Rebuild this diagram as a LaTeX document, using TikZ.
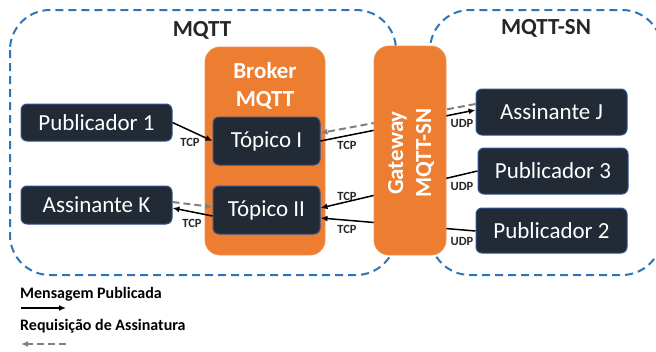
\documentclass[tikz,border=0pt]{standalone}
\usepackage{fontspec}
\setmainfont{Carlito}
\usetikzlibrary{arrows.meta}
\definecolor{orng}{HTML}{ED7D31}
\definecolor{darkfill}{HTML}{222A35}
\definecolor{bord}{HTML}{2F528F}
\definecolor{regionc}{HTML}{2E75B6}
\definecolor{greyarr}{HTML}{7F7F7F}
\definecolor{txt}{HTML}{262626}
\begin{document}
\begin{tikzpicture}[x=1pt,y=-1pt,
  regionbox/.style={draw=regionc, line width=2pt, dash pattern=on 8pt off 5pt, rounded corners=40pt},
  darkbox/.style={draw=bord, line width=1pt, fill=darkfill, rounded corners=6pt, text=white,
    font=\fontsize{23}{27}\selectfont, inner sep=0pt, minimum width=151pt, minimum height=37pt},
  topicbox/.style={darkbox, minimum width=107pt, minimum height=48pt},
  orbox/.style={draw=orng!85!white, line width=0.8pt, fill=orng, rounded corners=15pt, inner sep=0pt},
  whitetitle/.style={text=white, font=\fontsize{23}{28}\selectfont\bfseries, align=center, inner sep=0pt},
  regiontitle/.style={text=txt, font=\fontsize{23}{28}\selectfont\bfseries, inner sep=0pt},
  proto/.style={text=txt, font=\fontsize{12.5}{14}\selectfont\bfseries, inner sep=0pt},
  legendtext/.style={text=black, font=\fontsize{16}{19}\selectfont\bfseries, inner sep=0pt, anchor=west},
  pubarrow/.style={draw=black, line width=1.5pt, -{Latex[length=7pt,width=6pt]}},
  subarrow/.style={draw=greyarr, line width=2pt, dash pattern=on 7pt off 4pt, -{Latex[length=7pt,width=6pt]}},
]
\useasboundingbox (0,0) rectangle (656,351);
\clip (0,0) rectangle (656,351);

% regions
\draw[regionbox] (10,10) rectangle (396,275);
\draw[regionbox] (430,10) rectangle (662,275);
\node[regiontitle] (mqttlbl) at (202,30) {MQTT};
\node[regiontitle] (snlbl) at (546,28) {MQTT-SN};

% broker
\node[orbox, minimum width=120pt, minimum height=208pt] (broker) at (265,151) {};
\node[whitetitle] (brokert) at (265,86) {Broker\\MQTT};
\node[topicbox] (topI) at (266.5,141) {Tópico I};
\node[topicbox] (topII) at (266.5,210) {Tópico II};

% clients
\node[darkbox] (pub1) at (96.5,122.5) {Publicador 1};
\node[darkbox, minimum height=38pt] (assK) at (96.5,205) {Assinante K};
\node[darkbox, minimum height=46pt] (assJ) at (551.5,112) {Assinante J};
\node[darkbox, minimum width=150pt, minimum height=46pt] (pub3) at (553,171) {Publicador 3};
\node[darkbox, minimum height=45pt] (pub2) at (551.5,230.5) {Publicador 2};

% connectors
\draw[pubarrow] (pub1.east) -- (topI.west);
\draw[pubarrow] (topI.east) -- ([yshift=2pt]assJ.west);
\draw[subarrow] ([yshift=8pt]assJ.west) -- ([yshift=8pt]topI.east);
\draw[pubarrow] (pub3.west) -- ([yshift=2pt]topII.east);
\draw[pubarrow] ([yshift=-0.5pt]pub2.west) -- ([yshift=-8pt]topII.east);
\draw[pubarrow] ([yshift=-6pt]topII.west) -- ([yshift=-3pt]assK.east);
\draw[subarrow] ([yshift=3pt]assK.east) -- ([yshift=3pt]topII.west);

% gateway (on top of the lines)
\node[orbox, minimum width=72pt, minimum height=209pt] (gw) at (410,150.5) {};
\node[whitetitle, rotate=90] (gwt) at (411,153) {Gateway\\MQTT-SN};

% protocol labels
\node[proto] (tcp1) at (190,142) {TCP};
\node[proto] (tcp2) at (192,223) {TCP};
\node[proto] (tcp3) at (347,145) {TCP};
\node[proto] (tcp4) at (347,196) {TCP};
\node[proto] (tcp5) at (347,229) {TCP};
\node[proto] (udp1) at (462,123) {UDP};
\node[proto] (udp2) at (462,186) {UDP};
\node[proto] (udp3) at (462,241) {UDP};

% legend
\node[legendtext] (leg1) at (20,294) {Mensagem Publicada};
\coordinate (l1s) at (21,308);
\coordinate (l1e) at (66,308);
\draw[pubarrow] (l1s) -- (l1e);
\node[legendtext] (leg2) at (20,326) {Requisição de Assinatura};
\coordinate (l2s) at (66,344);
\coordinate (l2e) at (21,344);
\draw[subarrow] (l2s) -- (l2e);
\end{tikzpicture}
\end{document}
